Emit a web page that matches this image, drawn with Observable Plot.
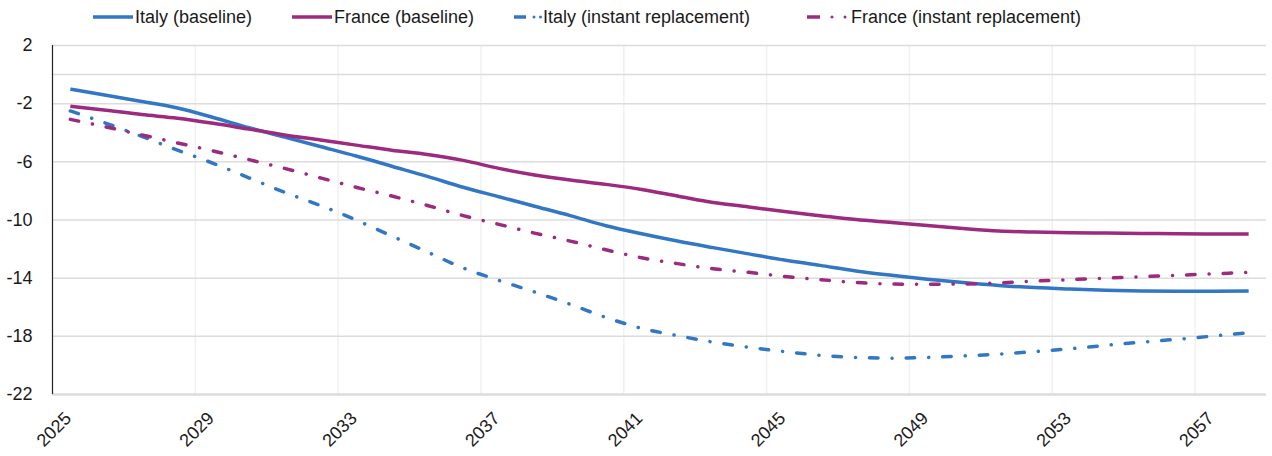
<!DOCTYPE html>
<html>
<head>
<meta charset="utf-8">
<script src="https://cdn.jsdelivr.net/npm/d3@7"></script>
<script src="https://cdn.jsdelivr.net/npm/@observablehq/plot@0.6"></script>
<style>
  html, body { margin: 0; padding: 0; background: #fff; }
  body { width: 1272px; height: 456px; overflow: hidden; font-family: "Liberation Sans", Arial, sans-serif; color: #1a1a1a; }
  #legend { position: relative; height: 35px; width: 1272px; }
  .item { position: absolute; top: 6px; display: flex; align-items: center; font-size: 18px; line-height: 22px; white-space: nowrap; }
  .item svg { display: block; }
</style>
</head>
<body>
<div id="legend"></div>
<div id="chart"></div>
<script>
const years = [2025,2026,2027,2028,2029,2030,2031,2032,2033,2034,2035,2036,2037,2038,2039,2040,2041,2042,2043,2044,2045,2046,2047,2048,2049,2050,2051,2052,2053,2054,2055,2056,2057,2058];

const italyBaseline = [-1.0,-1.42,-1.85,-2.3,-2.95,-3.65,-4.3,-4.95,-5.6,-6.3,-7.0,-7.75,-8.4,-9.05,-9.7,-10.4,-10.95,-11.45,-11.9,-12.33,-12.75,-13.12,-13.5,-13.8,-14.07,-14.3,-14.5,-14.65,-14.75,-14.83,-14.88,-14.9,-14.9,-14.88];
const franceBaseline = [-2.17,-2.45,-2.75,-3.0,-3.35,-3.75,-4.15,-4.5,-4.85,-5.2,-5.5,-5.9,-6.45,-6.9,-7.25,-7.55,-7.9,-8.35,-8.8,-9.1,-9.42,-9.7,-9.97,-10.17,-10.38,-10.58,-10.75,-10.83,-10.88,-10.9,-10.92,-10.95,-10.96,-10.96];
const italyInstant = [-2.5,-3.35,-4.25,-5.2,-6.1,-7.1,-8.1,-9.0,-10.0,-11.1,-12.2,-13.3,-14.15,-14.95,-15.8,-16.7,-17.45,-17.95,-18.4,-18.75,-19.05,-19.3,-19.45,-19.5,-19.45,-19.35,-19.22,-19.05,-18.85,-18.62,-18.4,-18.2,-17.98,-17.75];
const franceInstant = [-3.08,-3.6,-4.15,-4.7,-5.25,-5.85,-6.45,-7.1,-7.75,-8.35,-9.0,-9.7,-10.3,-10.9,-11.45,-12.05,-12.6,-13.0,-13.35,-13.6,-13.88,-14.1,-14.3,-14.4,-14.42,-14.4,-14.33,-14.2,-14.1,-14.0,-13.9,-13.8,-13.7,-13.6];

const seriesNames = ["Italy (baseline)", "France (baseline)", "Italy (instant replacement)", "France (instant replacement)"];
const seriesValues = [italyBaseline, franceBaseline, italyInstant, franceInstant];
const seriesColors = ["#3177c4", "#9c2a7e", "#3177c4", "#9c2a7e"];
const seriesDash = [null, null, "8.5 14 0.1 14", "8.5 14 0.1 14"];

const xTicks = [2025, 2029, 2033, 2037, 2041, 2045, 2049, 2053, 2057];
const yTicks = [2, -2, -6, -10, -14, -18, -22];

const data = seriesNames.flatMap((name, i) => years.map((year, j) => ({series: name, year, value: seriesValues[i][j]})));

// Legend
const legendX = [93, 292, 514, 807];
const legend = document.getElementById("legend");
seriesNames.forEach((name, i) => {
  const item = document.createElement("div");
  item.className = "item";
  item.style.left = legendX[i] + "px";
  const c = seriesColors[i];
  let swatch;
  if (!seriesDash[i]) {
    swatch = `<svg width="42" height="10"><line x1="0" y1="5" x2="40" y2="5" stroke="${c}" stroke-width="3.5"/></svg>`;
  } else if (i === 2) {
    swatch = `<svg width="29" height="10"><line x1="0" y1="5" x2="12" y2="5" stroke="${c}" stroke-width="3.5"/><circle cx="20" cy="5" r="1.5" fill="${c}"/><circle cx="26.5" cy="5" r="1.5" fill="${c}"/></svg>`;
  } else {
    swatch = `<svg width="44" height="10"><line x1="0" y1="5" x2="13" y2="5" stroke="${c}" stroke-width="3.5"/><circle cx="25" cy="5" r="1.5" fill="${c}"/><circle cx="38" cy="5" r="1.5" fill="${c}"/></svg>`;
  }
  item.innerHTML = swatch + `<span>${name}</span>`;
  legend.appendChild(item);
});

const chart = Plot.plot({
  width: 1272,
  height: 421,
  marginTop: 10,
  marginBottom: 62,
  marginLeft: 52,
  marginRight: 6,
  style: {fontFamily: "'Liberation Sans', Arial, sans-serif", fontSize: "18px", color: "#1a1a1a", background: "#fff"},
  x: {domain: [2025, 2059], axis: null},
  y: {domain: [-22, 2], axis: null},
  marks: [
    Plot.ruleX(xTicks.slice(1), {stroke: "#000", strokeOpacity: 0.06, strokeWidth: 1.5}),
    Plot.ruleY([...yTicks.slice(0, -1), 0], {stroke: "#dcdcdc", strokeWidth: 1.5}),
    Plot.ruleY([-22], {stroke: "#dcdcdc", strokeWidth: 2.5}),
    Plot.ruleX([2025], {stroke: "#222", strokeWidth: 1.2}),
    Plot.axisY({ticks: yTicks, tickSize: 0, tickPadding: 20, tickFormat: d => String(d), label: null, fontSize: 18, fill: "#1a1a1a"}),
    Plot.text(xTicks, {x: d => d + 0.5, frameAnchor: "bottom", text: d => String(d), rotate: -45, textAnchor: "end", lineAnchor: "bottom", dx: 2, dy: 25, fontSize: 18, fill: "#1a1a1a"}),
    ...seriesNames.map((name, i) => Plot.line(data.filter(d => d.series === name), {
      x: d => d.year + 0.5,
      y: "value",
      stroke: seriesColors[i],
      strokeWidth: 3.5,
      strokeDasharray: seriesDash[i],
      strokeLinecap: seriesDash[i] ? "round" : "butt",
      curve: "monotone-x"
    }))
  ]
});
document.getElementById("chart").appendChild(chart);
</script>
</body>
</html>
